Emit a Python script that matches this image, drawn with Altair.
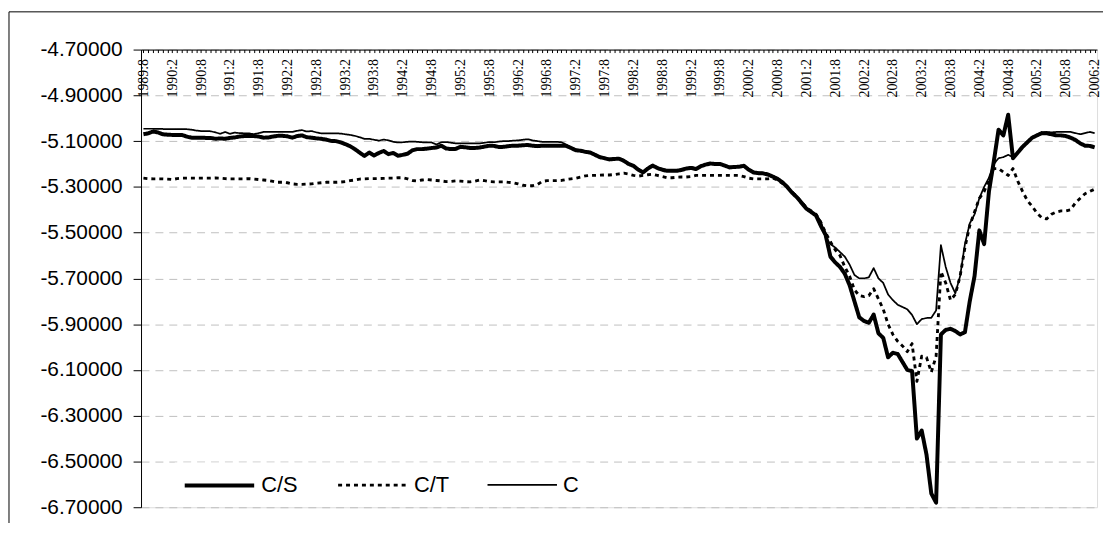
import altair as alt
import pandas as pd

# ---- categories (monthly, 1989:8 ... 2006:2) ----
months = []
_y, _m = 1989, 8
for _ in range(199):
    months.append(f"{_y}:{_m}")
    _m += 1
    if _m > 12:
        _m = 1
        _y += 1

tick_labels = months[::6]
y_ticks = [-4.7, -4.9, -5.1, -5.3, -5.5, -5.7, -5.9, -6.1, -6.3, -6.5, -6.7]
series_names = ["C/S", "C/T", "C"]

c_s = [
    -5.070, -5.066, -5.058, -5.062, -5.070, -5.072, -5.073, -5.073, -5.073, -5.080, -5.085, -5.085,
    -5.085, -5.086, -5.086, -5.090, -5.088, -5.090, -5.086, -5.084, -5.080, -5.078, -5.078, -5.078,
    -5.080, -5.085, -5.084, -5.080, -5.077, -5.077, -5.079, -5.085, -5.078, -5.075, -5.083, -5.085,
    -5.088, -5.090, -5.093, -5.099, -5.100, -5.105, -5.113, -5.122, -5.135, -5.150, -5.165, -5.150,
    -5.163, -5.152, -5.143, -5.157, -5.152, -5.164, -5.160, -5.155, -5.140, -5.135, -5.135, -5.133,
    -5.130, -5.128, -5.120, -5.132, -5.135, -5.134, -5.125, -5.127, -5.130, -5.130, -5.128, -5.124,
    -5.120, -5.121, -5.126, -5.125, -5.122, -5.120, -5.120, -5.118, -5.117, -5.120, -5.122, -5.120,
    -5.120, -5.120, -5.120, -5.120, -5.121, -5.130, -5.140, -5.142, -5.147, -5.150, -5.160, -5.170,
    -5.175, -5.180, -5.178, -5.177, -5.186, -5.200, -5.208, -5.225, -5.237, -5.220, -5.207, -5.218,
    -5.225, -5.230, -5.230, -5.230, -5.226, -5.220, -5.217, -5.222, -5.210, -5.203, -5.198, -5.200,
    -5.200, -5.207, -5.215, -5.213, -5.212, -5.208, -5.225, -5.237, -5.240, -5.241, -5.246, -5.255,
    -5.265, -5.280, -5.300, -5.325, -5.345, -5.370, -5.395, -5.410, -5.425, -5.470, -5.510, -5.605,
    -5.630, -5.650, -5.680, -5.730, -5.800, -5.870, -5.886, -5.894, -5.858, -5.940, -5.960, -6.045,
    -6.025, -6.030, -6.065, -6.100, -6.105, -6.400, -6.365, -6.470, -6.640, -6.680, -5.945, -5.925,
    -5.920, -5.930, -5.945, -5.935, -5.800, -5.690, -5.490, -5.550, -5.320, -5.190, -5.050, -5.075,
    -4.985, -5.175, -5.150, -5.125, -5.105, -5.085, -5.075, -5.065, -5.066, -5.070, -5.075, -5.075,
    -5.078, -5.085, -5.095, -5.110, -5.120, -5.121, -5.127,
]

c_t = [
    -5.262, -5.264, -5.265, -5.265, -5.265, -5.266, -5.268, -5.264, -5.262, -5.262, -5.262, -5.262,
    -5.262, -5.262, -5.262, -5.261, -5.262, -5.264, -5.265, -5.265, -5.265, -5.265, -5.264, -5.266,
    -5.268, -5.270, -5.272, -5.276, -5.280, -5.280, -5.282, -5.287, -5.289, -5.289, -5.288, -5.287,
    -5.284, -5.282, -5.280, -5.280, -5.280, -5.279, -5.277, -5.273, -5.270, -5.266, -5.265, -5.264,
    -5.264, -5.264, -5.263, -5.262, -5.262, -5.260, -5.260, -5.265, -5.272, -5.274, -5.270, -5.268,
    -5.270, -5.272, -5.274, -5.277, -5.276, -5.274, -5.275, -5.277, -5.278, -5.275, -5.270, -5.273,
    -5.277, -5.278, -5.278, -5.278, -5.280, -5.282, -5.287, -5.293, -5.295, -5.295, -5.290, -5.276,
    -5.273, -5.273, -5.273, -5.272, -5.268, -5.265, -5.262, -5.257, -5.252, -5.250, -5.250, -5.249,
    -5.248, -5.248, -5.246, -5.243, -5.240, -5.244, -5.250, -5.253, -5.250, -5.247, -5.245, -5.250,
    -5.255, -5.260, -5.260, -5.258, -5.257, -5.257, -5.255, -5.250, -5.250, -5.250, -5.250, -5.250,
    -5.250, -5.250, -5.250, -5.250, -5.250, -5.255, -5.262, -5.265, -5.265, -5.265, -5.265, -5.262,
    -5.270, -5.285, -5.300, -5.322, -5.342, -5.368, -5.390, -5.405, -5.420, -5.455, -5.500, -5.540,
    -5.575, -5.600, -5.650, -5.690, -5.750, -5.775, -5.780, -5.775, -5.745, -5.790, -5.835, -5.900,
    -5.945, -5.975, -5.995, -6.020, -5.985, -6.150, -6.040, -6.045, -6.110, -6.040, -5.670, -5.720,
    -5.795, -5.770, -5.690, -5.565, -5.470, -5.410, -5.350, -5.320, -5.270, -5.220, -5.220, -5.235,
    -5.250, -5.220, -5.275, -5.320, -5.360, -5.385, -5.415, -5.435, -5.440, -5.420, -5.410, -5.405,
    -5.405, -5.400, -5.370, -5.350, -5.330, -5.320, -5.310,
]

c_only = [
    -5.046, -5.046, -5.046, -5.047, -5.047, -5.048, -5.048, -5.048, -5.048, -5.048, -5.050, -5.054,
    -5.056, -5.056, -5.057, -5.062, -5.068, -5.060, -5.068, -5.063, -5.065, -5.066, -5.066, -5.070,
    -5.065, -5.060, -5.060, -5.060, -5.060, -5.060, -5.060, -5.060, -5.055, -5.052, -5.058, -5.056,
    -5.062, -5.066, -5.066, -5.066, -5.066, -5.067, -5.070, -5.073, -5.077, -5.083, -5.090, -5.090,
    -5.094, -5.098, -5.093, -5.097, -5.103, -5.106, -5.105, -5.103, -5.102, -5.103, -5.105, -5.106,
    -5.106, -5.115, -5.105, -5.104, -5.107, -5.110, -5.110, -5.110, -5.110, -5.110, -5.110, -5.107,
    -5.104, -5.105, -5.102, -5.100, -5.100, -5.098, -5.097, -5.094, -5.092, -5.097, -5.100, -5.103,
    -5.103, -5.103, -5.103, -5.105, -5.115, -5.127, -5.137, -5.139, -5.144, -5.147, -5.157, -5.167,
    -5.172, -5.177, -5.175, -5.174, -5.183, -5.197, -5.205, -5.222, -5.234, -5.217, -5.204, -5.215,
    -5.222, -5.227, -5.227, -5.227, -5.223, -5.217, -5.214, -5.219, -5.207, -5.200, -5.195, -5.197,
    -5.197, -5.204, -5.212, -5.210, -5.209, -5.205, -5.222, -5.234, -5.237, -5.238, -5.243, -5.252,
    -5.262, -5.277, -5.297, -5.322, -5.342, -5.367, -5.392, -5.407, -5.420, -5.450, -5.520, -5.550,
    -5.565, -5.585, -5.605, -5.640, -5.685, -5.700, -5.700, -5.695, -5.655, -5.700, -5.720, -5.770,
    -5.795, -5.815, -5.825, -5.835, -5.860, -5.900, -5.878, -5.873, -5.872, -5.840, -5.555, -5.650,
    -5.720, -5.765, -5.690, -5.550, -5.460, -5.420, -5.350, -5.300, -5.260, -5.200, -5.175, -5.170,
    -5.160, -5.170, -5.148, -5.122, -5.100, -5.082, -5.072, -5.062, -5.060, -5.062, -5.060, -5.060,
    -5.060, -5.060, -5.065, -5.070, -5.065, -5.060, -5.065,
]

assert len(c_s) == len(months) and len(c_t) == len(months) and len(c_only) == len(months)

rows = []
for name, vals in zip(series_names, [c_s, c_t, c_only]):
    for mo, v in zip(months, vals):
        rows.append({"month": mo, "series": name, "value": v})
df = pd.DataFrame(rows)

W, H = 963, 461
label_arr = "[" + ",".join(f"'{t}'" for t in tick_labels) + "]"

legend = alt.Legend(
    orient="none", legendX=34, legendY=416, direction="horizontal", title=None,
    symbolType="M-3.18,0H3.18", symbolSize=484, symbolOffset=22,
    symbolStrokeColor="black",
    labelFont="Liberation Sans", labelFontSize=22, labelColor="black",
    labelOffset=29, columnPadding=34, fillColor="white", padding=10,
)

x_enc = alt.X(
    "month:O",
    scale=alt.Scale(type="point", domain=months, padding=0.5),
    axis=alt.Axis(
        orient="bottom", offset=-H, values=months,
        labelExpr=f"indexof({label_arr}, datum.value) >= 0 ? datum.value : ''",
        labelAngle=270, labelAlign="right", labelBaseline="middle",
        labelOverlap=False, labelFont="Liberation Serif", labelFontSize=14,
        labelColor="black", labelPadding=6, tickSize=3, tickColor="black",
        domainColor="black", grid=False, title=None,
    ),
)

y_enc = alt.Y(
    "value:Q",
    scale=alt.Scale(domain=[-6.7, -4.7], zero=False, nice=False),
    axis=alt.Axis(
        values=y_ticks,
        labelExpr="(datum.value < 0 ? '-' : '') + format(abs(datum.value), '.5f')",
        labelFont="Liberation Sans", labelFontSize=21, labelColor="black",
        labelPadding=11, tickSize=8, tickColor="black", domainColor="black",
        grid=True, gridColor="#c0c0c0", gridDash=[8, 6], gridWidth=1, title=None,
    ),
)

lines = alt.Chart(df).mark_line(strokeJoin="round", clip=True).encode(
    x=x_enc,
    y=y_enc,
    color=alt.Color("series:N", scale=alt.Scale(domain=series_names, range=["black", "black", "black"]), legend=legend),
    strokeDash=alt.StrokeDash("series:N", scale=alt.Scale(domain=series_names, range=[[1, 0], [4, 4], [1, 0]]), legend=legend),
    strokeWidth=alt.StrokeWidth("series:N", scale=alt.Scale(domain=series_names, range=[4, 1.75, 1.25]), legend=legend),
    order=alt.Order("series:N"),
)

frame_df = pd.DataFrame({"k": [0]})
frame_top = alt.Chart(frame_df).mark_rule(color="black", strokeWidth=1, clip=False).encode(
    x=alt.value(-133), x2=alt.value(W + 200), y=alt.value(-38),
)
frame_left = alt.Chart(frame_df).mark_rule(color="black", strokeWidth=1, clip=False).encode(
    x=alt.value(-133), y=alt.value(-38), y2=alt.value(H + 200),
)

chart = alt.layer(frame_top, frame_left, lines).properties(
    width=W, height=H,
    padding={"left": 134, "top": 40, "right": 6, "bottom": 14},
    autosize=alt.AutoSizeParams(type="none"),
).configure_view(stroke=None).configure(background="white")

chart.save("out.html", embed_options={"renderer": "svg", "actions": False})
